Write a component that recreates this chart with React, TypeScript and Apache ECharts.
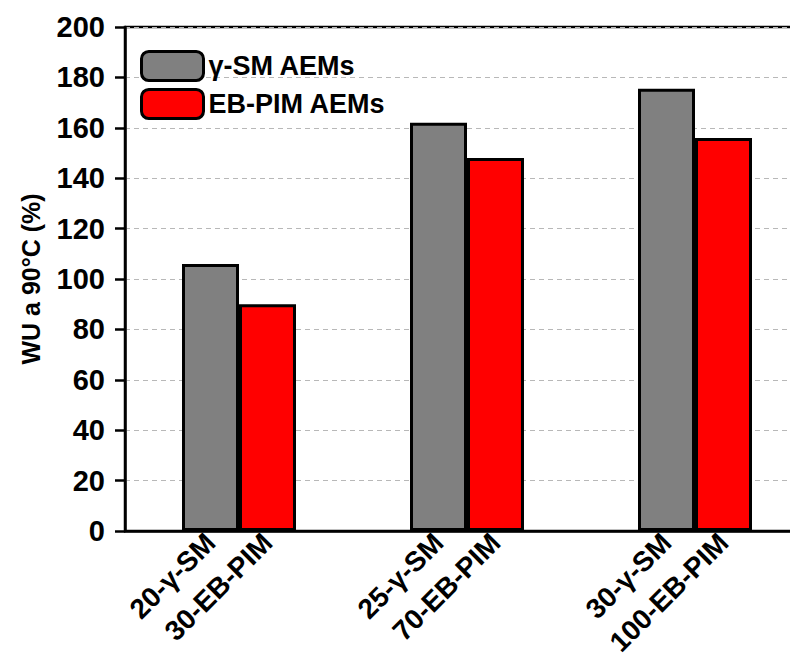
import React, { useEffect, useRef } from "react";
import * as echarts from "echarts";

const smLabels = ["20-γ-SM", "25-γ-SM", "30-γ-SM"];
const pimLabels = ["30-EB-PIM", "70-EB-PIM", "100-EB-PIM"];
const smValues = [106, 162, 175.5];
const pimValues = [90, 148, 156];
const seriesNames = ["γ-SM AEMs", "EB-PIM AEMs"];
const yTicks = { min: 0, max: 200, interval: 20 };

// Each group occupies 4 slots: pad, gray, red, pad
const categories: string[] = [];
const graySlots: (number | null)[] = [];
const redSlots: (number | null)[] = [];
smLabels.forEach((l, i) => {
  categories.push("", l, pimLabels[i], "");
  graySlots.push(null, smValues[i], null, null);
  redSlots.push(null, null, pimValues[i], null);
});

const FONT = "'Liberation Sans', Arial, sans-serif";

export default function App() {
  const ref = useRef<HTMLDivElement>(null);
  useEffect(() => {
    if (!ref.current) return;
    const chart = echarts.init(ref.current, null, { renderer: "svg" });
    const barStyle = (color: string) => ({
      color,
      borderColor: "#000",
      borderWidth: 3,
    });
    chart.setOption({
      animation: false,
      backgroundColor: "#fff",
      grid: {
        left: 125,
        top: 27,
        bottom: 133,
        width: 684,
        show: true,
        borderColor: "#000",
        borderWidth: 2.5,
        containLabel: false,
        outerBoundsMode: "none",
      },
      legend: {
        orient: "vertical",
        left: 135,
        top: 45,
        itemWidth: 62,
        itemHeight: 29,
        itemGap: 6,
        selectedMode: false,
        itemStyle: { borderWidth: 3, borderColor: "#000" },
        textStyle: {
          fontFamily: FONT,
          fontWeight: "bold",
          fontSize: 27,
          color: "#000",
        },
        data: seriesNames,
      },
      xAxis: {
        type: "category",
        data: categories,
        boundaryGap: true,
        axisLine: { lineStyle: { color: "#000", width: 2.5 } },
        axisTick: { show: false },
        axisLabel: {
          interval: 0,
          rotate: 45,
          margin: 7,
          fontFamily: FONT,
          fontWeight: "bold",
          fontSize: 28,
          color: "#000",
        },
        splitLine: { show: false },
      },
      yAxis: {
        type: "value",
        min: yTicks.min,
        max: yTicks.max,
        interval: yTicks.interval,
        name: "WU a 90°C (%)",
        nameLocation: "middle",
        nameGap: 82,
        nameTextStyle: {
          fontFamily: FONT,
          fontWeight: "bold",
          fontSize: 25,
          color: "#000",
        },
        axisLine: { show: true, lineStyle: { color: "#000", width: 2.5 } },
        axisTick: { show: true, inside: false, length: 10, lineStyle: { color: "#000", width: 2.5 } },
        axisLabel: {
          margin: 20,
          fontFamily: FONT,
          fontWeight: "bold",
          fontSize: 29,
          color: "#000",
        },
        splitLine: {
          show: true,
          lineStyle: { color: "#b8b8b8", type: [5, 4], width: 1 },
        },
      },
      series: [
        {
          name: seriesNames[0],
          type: "bar",
          stack: "all",
          barCategoryGap: 0,
          data: graySlots,
          itemStyle: barStyle("#808080"),
        },
        {
          name: seriesNames[1],
          type: "bar",
          stack: "all",
          barCategoryGap: 0,
          data: redSlots,
          itemStyle: barStyle("#ff0000"),
        },
      ],
    });
    return () => chart.dispose();
  }, []);
  return <div ref={ref} style={{ width: 798, height: 664, margin: -8 }} />;
}
